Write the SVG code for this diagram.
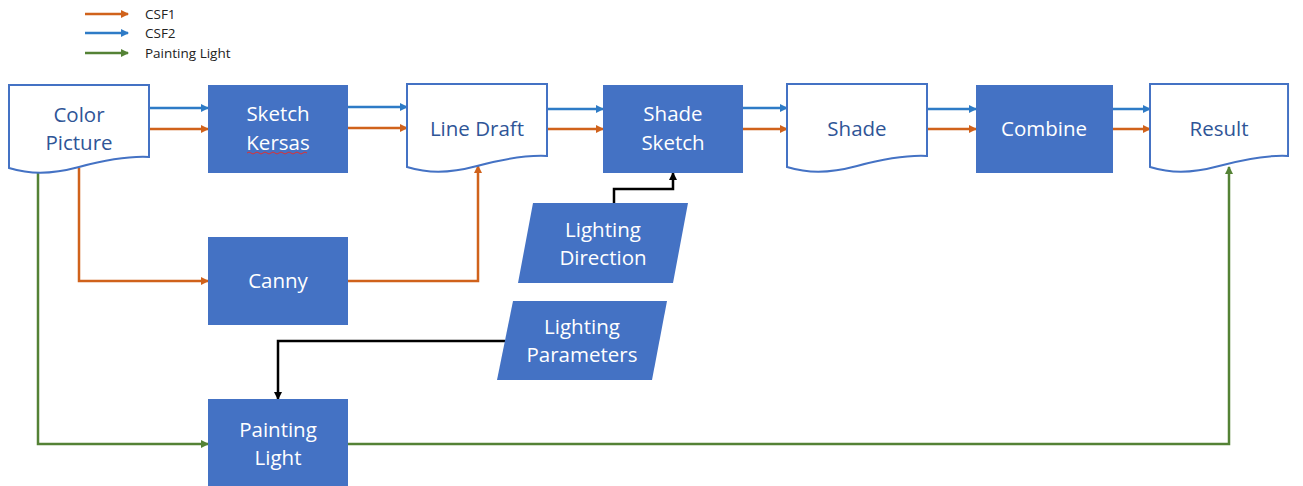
<svg xmlns="http://www.w3.org/2000/svg" xmlns:xlink="http://www.w3.org/1999/xlink" width="1303" height="486" viewBox="0 0 1303 486">
<style>
.proc{fill:#4472C4}
.doc{fill:#fff;stroke:#4472C4;stroke-width:2}
.t{font-family:"Open Sans","Liberation Sans",sans-serif;font-size:20.5px;text-anchor:middle}
.tw{fill:#fff}
.td{fill:#2F5597}
.lg{font-family:"Open Sans","Liberation Sans",sans-serif;font-size:13.5px;fill:#222}
.c{fill:none;stroke-width:2.5}
.o{stroke:#D0621B}
.b{stroke:#2E7BC6}
.g{stroke:#548235}
.k{stroke:#000}
</style>
<defs>
<path id="docshape" d="M0,0 H140 V72 C120,71 100,74 70,82 S20,89 0,83 Z"/>
<marker id="ao" markerWidth="8" markerHeight="8" refX="7" refY="4" orient="auto" markerUnits="userSpaceOnUse"><path d="M0,0 L8,4 L0,8 Z" fill="#D0621B"/></marker>
<marker id="ab" markerWidth="8" markerHeight="8" refX="7" refY="4" orient="auto" markerUnits="userSpaceOnUse"><path d="M0,0 L8,4 L0,8 Z" fill="#2E7BC6"/></marker>
<marker id="ag" markerWidth="8" markerHeight="8" refX="7" refY="4" orient="auto" markerUnits="userSpaceOnUse"><path d="M0,0 L8,4 L0,8 Z" fill="#548235"/></marker>
<marker id="ak" markerWidth="8" markerHeight="8" refX="7" refY="4" orient="auto" markerUnits="userSpaceOnUse"><path d="M0,0 L8,4 L0,8 Z" fill="#000"/></marker>
</defs>

<g id="legend">
<line class="c o" x1="85" y1="14" x2="128" y2="14" marker-end="url(#ao)"/>
<line class="c b" x1="85" y1="33" x2="128" y2="33" marker-end="url(#ab)"/>
<line class="c g" x1="85" y1="53" x2="128" y2="53" marker-end="url(#ag)"/>
<text class="lg" x="145" y="19">CSF1</text>
<text class="lg" x="145" y="38">CSF2</text>
<text class="lg" x="145" y="58">Painting Light</text>
</g>

<g id="connectors">
<line class="c b" x1="149" y1="108" x2="208" y2="108" marker-end="url(#ab)"/>
<line class="c o" x1="149" y1="129" x2="208" y2="129" marker-end="url(#ao)"/>
<line class="c b" x1="348" y1="107" x2="407" y2="107" marker-end="url(#ab)"/>
<line class="c o" x1="348" y1="128" x2="407" y2="128" marker-end="url(#ao)"/>
<line class="c b" x1="547" y1="109" x2="603" y2="109" marker-end="url(#ab)"/>
<line class="c o" x1="547" y1="129" x2="603" y2="129" marker-end="url(#ao)"/>
<line class="c b" x1="743" y1="108" x2="787" y2="108" marker-end="url(#ab)"/>
<line class="c o" x1="743" y1="129" x2="787" y2="129" marker-end="url(#ao)"/>
<line class="c b" x1="926" y1="109" x2="976" y2="109" marker-end="url(#ab)"/>
<line class="c o" x1="926" y1="129" x2="976" y2="129" marker-end="url(#ao)"/>
<line class="c b" x1="1113" y1="109" x2="1150" y2="109" marker-end="url(#ab)"/>
<line class="c o" x1="1113" y1="129" x2="1150" y2="129" marker-end="url(#ao)"/>
<polyline class="c o" points="79,168 79,281 208,281" marker-end="url(#ao)"/>
<polyline class="c o" points="348,281 478,281 478,166" marker-end="url(#ao)"/>
<polyline class="c g" points="38,170 38,444 208,444" marker-end="url(#ag)"/>
<polyline class="c g" points="348,444 1229,444 1229,167" marker-end="url(#ag)"/>
<polyline class="c k" points="614,203 614,189 673,189 673,173" marker-end="url(#ak)"/>
<polyline class="c k" points="505,341 278,341 278,399" marker-end="url(#ak)"/>
</g>

<g id="color-picture">
<use xlink:href="#docshape" class="doc" transform="translate(9,85)"/>
<text class="t td" x="79" y="122">Color</text>
<text class="t td" x="79" y="150">Picture</text>
</g>

<g id="sketch-kersas">
<rect class="proc" x="208" y="85" width="140" height="88"/>
<text class="t tw" x="278" y="121">Sketch</text>
<text class="t tw" x="278" y="150">Kersas</text>
<path d="M247,153 q2,-2 4,0 t4,0 t4,0 t4,0 t4,0 t4,0 t4,0 t4,0 t4,0 t4,0 t4,0 t4,0 t4,0 t4,0 t4,0" fill="none" stroke="#E03030" stroke-width="1"/>
</g>

<g id="line-draft">
<use xlink:href="#docshape" class="doc" transform="translate(407,84)"/>
<text class="t td" x="477" y="136">Line Draft</text>
</g>

<g id="shade-sketch">
<rect class="proc" x="603" y="85" width="140" height="88"/>
<text class="t tw" x="673" y="121">Shade</text>
<text class="t tw" x="673" y="150">Sketch</text>
</g>

<g id="shade">
<use xlink:href="#docshape" class="doc" transform="translate(787,84)"/>
<text class="t td" x="857" y="136">Shade</text>
</g>

<g id="combine">
<rect class="proc" x="976" y="85" width="137" height="88"/>
<text class="t tw" x="1044" y="136">Combine</text>
</g>

<g id="result">
<use xlink:href="#docshape" class="doc" transform="translate(1150,84) scale(0.986,1)"/>
<text class="t td" x="1219" y="136">Result</text>
</g>

<g id="canny">
<rect class="proc" x="208" y="237" width="140" height="88"/>
<text class="t tw" x="278" y="288">Canny</text>
</g>

<g id="lighting-direction">
<polygon class="proc" points="533,203 688,203 673,283 518,283"/>
<text class="t tw" x="603" y="237">Lighting</text>
<text class="t tw" x="603" y="265">Direction</text>
</g>

<g id="lighting-parameters">
<polygon class="proc" points="513,301 667,301 652,380 497,380"/>
<text class="t tw" x="582" y="334">Lighting</text>
<text class="t tw" x="582" y="362">Parameters</text>
</g>

<g id="painting-light">
<rect class="proc" x="208" y="399" width="140" height="90"/>
<text class="t tw" x="278" y="437">Painting</text>
<text class="t tw" x="278" y="465">Light</text>
</g>
</svg>
